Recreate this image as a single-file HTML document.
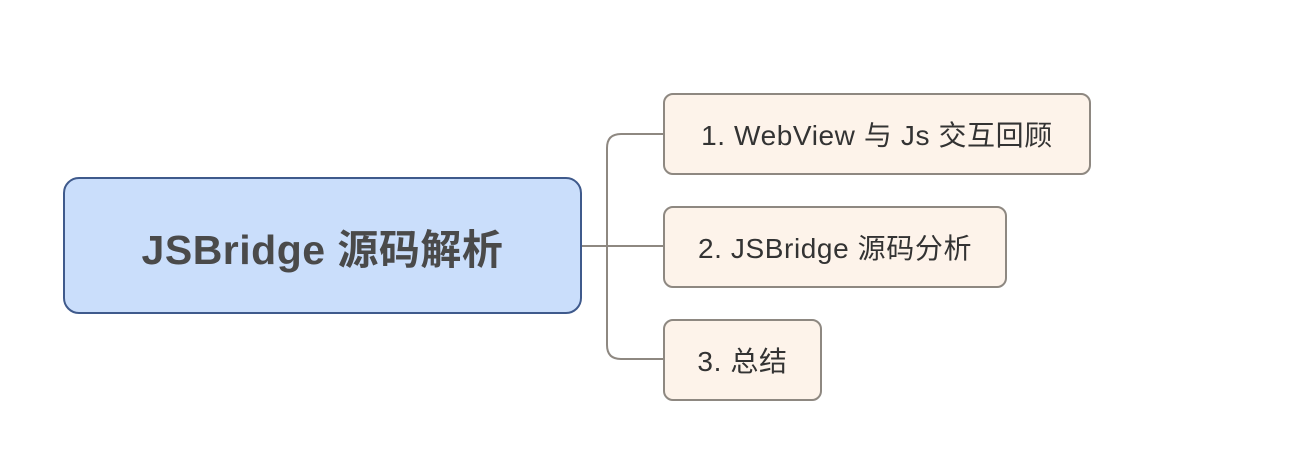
<!DOCTYPE html>
<html><head><meta charset="utf-8"><style>
html,body{margin:0;padding:0;background:#fff;}
body{width:1304px;height:456px;position:relative;overflow:hidden;font-family:"Liberation Sans","Noto Sans CJK SC",sans-serif;}
.main{position:absolute;left:63px;top:177px;width:515px;height:133px;border:2px solid #3f5a8c;border-radius:16px;background:#cadefb;display:flex;align-items:center;justify-content:center;font-weight:bold;font-size:41px;letter-spacing:0.5px;color:#4a4a4a;}
.c{position:absolute;left:663px;height:78px;border:2px solid #8e8881;border-radius:10px;background:#fdf3ea;display:flex;align-items:center;justify-content:center;font-size:28px;letter-spacing:0.6px;color:#333;box-sizing:content-box;}
</style></head><body>
<svg width="1304" height="456" style="position:absolute;left:0;top:0">
<path d="M582 246 H664 M664 134 H621 Q607 134 607 148 V345 Q607 359 621 359 H664" fill="none" stroke="#8e8881" stroke-width="2"/>
</svg>
<div class="main">JSBridge 源码解析</div>
<div class="c" style="top:93px;width:424px">1. WebView 与 Js 交互回顾</div>
<div class="c" style="top:206px;width:340px">2. JSBridge 源码分析</div>
<div class="c" style="top:319px;width:155px">3. 总结</div>
</body></html>
